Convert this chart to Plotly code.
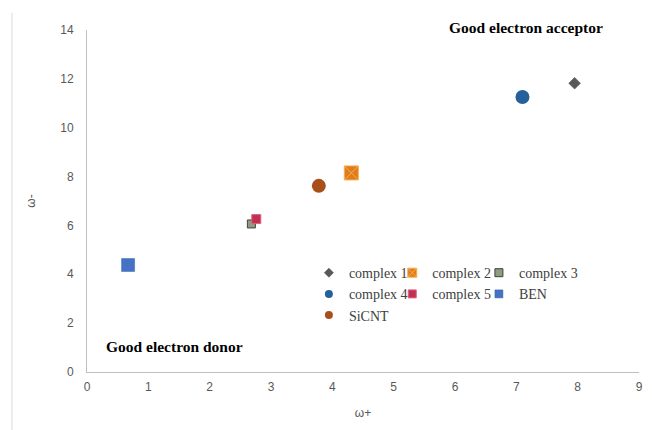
import plotly.graph_objects as go

names = ["complex 1", "complex 2", "complex 3", "complex 4", "complex 5", "BEN", "SiCNT"]
omega_plus = [7.95, 4.31, 2.68, 7.10, 2.76, 0.67, 3.78]
omega_minus = [11.82, 8.15, 6.06, 11.26, 6.26, 4.38, 7.62]

x_ticks = [0, 1, 2, 3, 4, 5, 6, 7, 8, 9]
y_ticks = [0, 2, 4, 6, 8, 10, 12, 14]

styles = {
    "complex 1": dict(symbol="diamond", size=9, lsize=7, color="#595959", line=dict(color="#404040", width=0.5)),
    "complex 2": dict(symbol="square-x", size=14, lsize=9, color="#E07B1E", line=dict(color="#F5B04A", width=1)),
    "complex 3": dict(symbol="square", size=8, lsize=8, color="#8E9C80", line=dict(color="#404040", width=1)),
    "complex 4": dict(symbol="circle", size=14, lsize=8, color="#25609B", line=dict(color="#25609B", width=0)),
    "complex 5": dict(symbol="square", size=9, lsize=8, color="#C2304F", line=dict(color="#E06080", width=1)),
    "BEN": dict(symbol="square", size=13, lsize=8, color="#4472C4", line=dict(color="#3A62AC", width=0.5)),
    "SiCNT": dict(symbol="circle", size=14, lsize=8, color="#A9501A", line=dict(color="#A9501A", width=0)),
}
legend_of = {
    "complex 1": "legend", "complex 4": "legend", "SiCNT": "legend",
    "complex 2": "legend2", "complex 5": "legend2",
    "complex 3": "legend3", "BEN": "legend3",
}

fig = go.Figure()
for n, xv, yv in zip(names, omega_plus, omega_minus):
    s = styles[n]
    fig.add_trace(go.Scatter(
        x=[xv], y=[yv], mode="markers", name=n, legendgroup=n, showlegend=False,
        marker=dict(symbol=s["symbol"], size=s["size"], color=s["color"], line=s["line"]),
    ))
# legend entries (smaller symbols, like the reference legend)
for n in names:
    s = styles[n]
    fig.add_trace(go.Scatter(
        x=[None], y=[None], mode="markers", name=n, legendgroup=n,
        marker=dict(symbol=s["symbol"], size=s["lsize"], color=s["color"], line=s["line"]),
        legend=legend_of[n],
    ))

leg_common = dict(
    orientation="v", bgcolor="rgba(0,0,0,0)", borderwidth=0,
    font=dict(family="Liberation Serif", size=14, color="#404040"),
    tracegroupgap=0, itemwidth=30, yanchor="top", xanchor="left",
)
axis_font = dict(family="Liberation Sans", size=12, color="#595959")
fig.update_layout(
    width=644, height=422,
    margin=dict(l=79, r=13, t=22, b=58, autoexpand=False),
    paper_bgcolor="white", plot_bgcolor="white",
    showlegend=True,
    legend=dict(x=0.402, y=0.336, **leg_common),
    legend2=dict(x=0.553, y=0.336, **leg_common),
    legend3=dict(x=0.710, y=0.336, **leg_common),
    xaxis=dict(
        range=[0, 9], tickvals=x_ticks, showgrid=False, zeroline=False, automargin=False,
        showline=True, linecolor="#BFBFBF", linewidth=1, ticks="",
        tickfont=axis_font, ticklabelstandoff=4,
        title=dict(text="ω+", font=axis_font),
    ),
    yaxis=dict(
        range=[0, 14], tickvals=y_ticks, showgrid=False, zeroline=False, automargin=False,
        showline=True, linecolor="#BFBFBF", linewidth=1, ticks="",
        tickfont=axis_font, ticklabelstandoff=10,
        title=dict(text="ω-", font=axis_font, standoff=22),
    ),
    annotations=[
        dict(x=0.795, y=1.006, xref="paper", yref="paper", xanchor="center", yanchor="middle",
             text="<b>Good electron acceptor</b>", showarrow=False,
             font=dict(family="Liberation Serif", size=15.5, color="#000000")),
        dict(x=0.158, y=0.076, xref="paper", yref="paper", xanchor="center", yanchor="middle",
             text="<b>Good electron donor</b>", showarrow=False,
             font=dict(family="Liberation Serif", size=15.5, color="#000000")),
    ],
    shapes=[
        dict(type="line", xref="paper", yref="paper", x0=-0.136, x1=-0.136, y0=1.05, y1=-0.2,
             line=dict(color="#D9D9D9", width=1)),
    ],
)

fig.write_html("out.html")
